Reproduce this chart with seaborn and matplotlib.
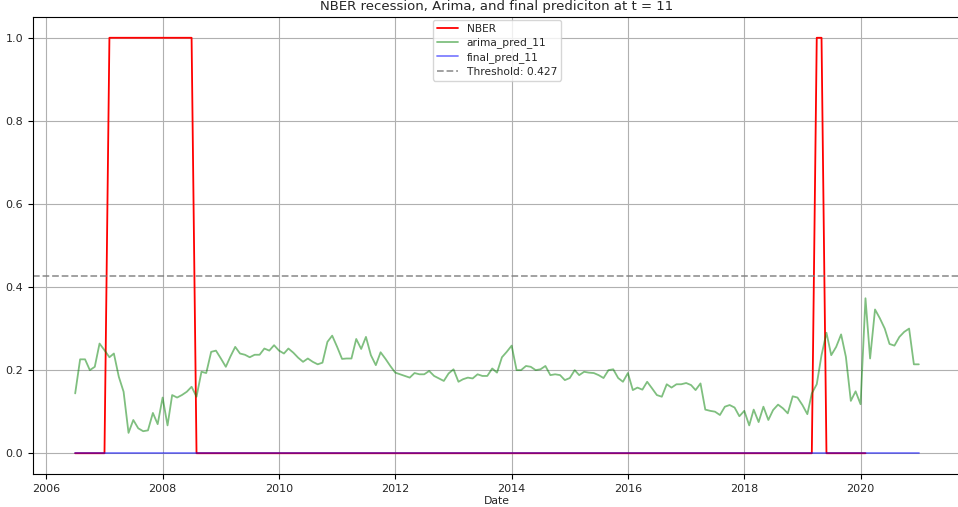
import matplotlib
matplotlib.use("Agg")
import matplotlib.pyplot as plt
import seaborn as sns
import pandas as pd
import numpy as np

# ---- data (monthly) ----
arima_start = "2006-07-01"
arima_pred_11 = [
    0.144, 0.226, 0.226, 0.200, 0.208, 0.264,                                          # 2006 Jul-Dec
    0.248, 0.231, 0.240, 0.184, 0.148, 0.049, 0.080, 0.060, 0.053, 0.055, 0.097, 0.070,  # 2007
    0.134, 0.067, 0.140, 0.134, 0.140, 0.148, 0.160, 0.136, 0.196, 0.193, 0.244, 0.247,  # 2008
    0.228, 0.208, 0.232, 0.256, 0.240, 0.237, 0.231, 0.237, 0.237, 0.252, 0.247, 0.260,  # 2009
    0.247, 0.240, 0.252, 0.242, 0.230, 0.220, 0.228, 0.220, 0.214, 0.218, 0.268, 0.283,  # 2010
    0.256, 0.227, 0.228, 0.228, 0.275, 0.251, 0.280, 0.236, 0.212, 0.243, 0.227, 0.210,  # 2011
    0.194, 0.190, 0.186, 0.182, 0.193, 0.190, 0.190, 0.198, 0.186, 0.180, 0.174, 0.192,  # 2012
    0.202, 0.172, 0.178, 0.182, 0.180, 0.190, 0.186, 0.186, 0.204, 0.194, 0.231, 0.244,  # 2013
    0.259, 0.200, 0.200, 0.210, 0.208, 0.200, 0.202, 0.210, 0.188, 0.190, 0.188, 0.176,  # 2014
    0.181, 0.200, 0.188, 0.196, 0.194, 0.193, 0.188, 0.181, 0.200, 0.202, 0.181, 0.172,  # 2015
    0.193, 0.152, 0.158, 0.153, 0.172, 0.156, 0.140, 0.136, 0.166, 0.158, 0.166, 0.166,  # 2016
    0.169, 0.164, 0.152, 0.168, 0.105, 0.102, 0.100, 0.092, 0.112, 0.116, 0.110, 0.089,  # 2017
    0.102, 0.067, 0.105, 0.075, 0.112, 0.080, 0.104, 0.117, 0.108, 0.096, 0.137, 0.134,  # 2018
    0.116, 0.094, 0.144, 0.166, 0.236, 0.290, 0.236, 0.256, 0.286, 0.232, 0.126, 0.149,  # 2019
    0.118, 0.373, 0.228, 0.346, 0.325, 0.300, 0.263, 0.259, 0.280, 0.292, 0.300, 0.214,  # 2020
    0.214,                                                                              # 2021 Jan
]
final_pred_11 = [0.0] * len(arima_pred_11)

nber_start = "2006-07-01"
# NBER recession indicator: 0 until Jan 2007, 1 Feb 2007 - Jul 2008, 0 until Mar 2019,
# 1 Apr - May 2019, 0 until Feb 2020
nber = [0] * 7 + [1] * 18 + [0] * 128 + [1] * 2 + [0] * 9

threshold = 0.427
title = "NBER recession, Arima, and final prediciton at t = 11"

# ---- frames ----
pred_dates = pd.date_range(arima_start, periods=len(arima_pred_11), freq="MS")
nber_dates = pd.date_range(nber_start, periods=len(nber), freq="MS")
df_pred = pd.DataFrame({"Date": pred_dates, "arima": arima_pred_11, "final": final_pred_11})
df_nber = pd.DataFrame({"Date": nber_dates, "NBER": nber})

sns.set_style("white")
plt.rcParams["font.family"] = ["DejaVu Sans"]

fig = plt.figure(figsize=(9.58, 5.07), dpi=100)
# the reference screenshot is cropped on the right: the axes run slightly past the edge
ax = fig.add_axes([33 / 958, 33 / 507, (961 - 33) / 958, (490 - 33) / 507])

sns.lineplot(data=df_nber, x="Date", y="NBER", ax=ax, color="red", lw=1.3, label="NBER")
sns.lineplot(data=df_pred, x="Date", y="arima", ax=ax, color="green", alpha=0.5, lw=1.3,
             label="arima_pred_11")
sns.lineplot(data=df_pred, x="Date", y="final", ax=ax, color="blue", alpha=0.5, lw=1.3,
             label="final_pred_11")
ax.axhline(threshold, color="gray", ls="--", lw=1.3, alpha=0.8, label=f"Threshold: {threshold}")

ax.set_ylim(-0.05, 1.05)
ax.set_yticks([0.0, 0.2, 0.4, 0.6, 0.8, 1.0])
ax.grid(True, color="#b0b0b0", lw=0.8)
for s in ax.spines.values():
    s.set_color("black")
    s.set_linewidth(0.8)
ax.tick_params(axis="both", labelsize=8, length=3.5, width=0.8, color="black", left=True, bottom=True)
ax.set_xlabel("Date", fontsize=7.8, labelpad=1.5)
ax.set_ylabel("")
ax.set_title(title, fontsize=9.5, pad=5)
ax.legend(loc="upper center", fontsize=7.7, framealpha=0.8, borderpad=0.35, handlelength=2.0,
          labelspacing=0.35, bbox_to_anchor=(0.5, 1.005))

fig.savefig("out.png", dpi=100)
